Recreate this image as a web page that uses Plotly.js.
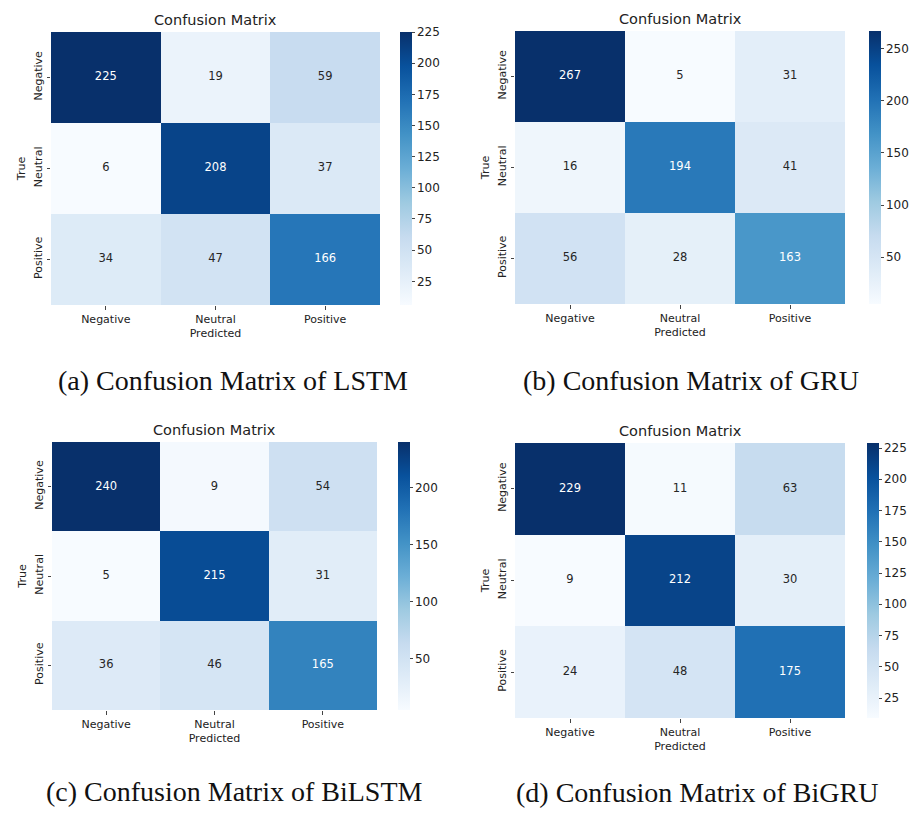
<!DOCTYPE html>
<html>
<head>
<meta charset="utf-8">
<script src="https://cdn.plot.ly/plotly-3.0.1.min.js"></script>
<style>html,body{margin:0;padding:0;background:#fff;}#chart{width:914px;height:814px;}</style>
</head>
<body>
<div id="chart"></div>
<script>
// Data
const labels = ["Negative", "Neutral", "Positive"];
const lstm   = [[225, 19, 59], [6, 208, 37], [34, 47, 166]];
const gru    = [[267, 5, 31], [16, 194, 41], [56, 28, 163]];
const bilstm = [[240, 9, 54], [5, 215, 31], [36, 46, 165]];
const bigru  = [[229, 11, 63], [9, 212, 30], [24, 48, 175]];
const captions = ["(a) Confusion Matrix of LSTM", "(b) Confusion Matrix of GRU",
                  "(c) Confusion Matrix of BiLSTM", "(d) Confusion Matrix of BiGRU"];
const cbTicks = [[25,50,75,100,125,150,175,200,225],[50,100,150,200,250],[50,100,150,200],[25,50,75,100,125,150,175,200,225]];

const W = 914, H = 814;
const blues = [[0,'#f7fbff'],[0.125,'#deebf7'],[0.25,'#c6dbef'],[0.375,'#9ecae1'],[0.5,'#6baed6'],[0.625,'#4292c6'],[0.75,'#2171b5'],[0.875,'#08519c'],[1,'#08306b']];

// pixel layout boxes: [x0,x1,y0,y1], colorbar [x, y0, y1], caption [cx, cy]
const panels = [
  {z: lstm,   box:[51,380,32,305],  cb:[400,32,305],  cap:[233,380]},
  {z: gru,    box:[515,845,31,304], cb:[869,31,304],  cap:[691,380]},
  {z: bilstm, box:[52,377,442,710], cb:[398,442,710], cap:[234,791]},
  {z: bigru,  box:[515,845,443,718],cb:[867,443,718], cap:[697,792]}
];

const px = x => x / W;
const py = y => 1 - y / H;
const tickFont = {family: 'DejaVu Sans', size: 11, color: '#222'};

const data = [];
const layout = {
  width: W, height: H,
  margin: {l:0, r:0, t:0, b:0},
  paper_bgcolor: '#fff', plot_bgcolor: '#fff',
  showlegend: false,
  annotations: []
};

panels.forEach((p, i) => {
  const n = i === 0 ? '' : String(i + 1);
  const flat = p.z.flat();
  const zmin = Math.min(...flat), zmax = Math.max(...flat);
  data.push({
    type: 'heatmap',
    x: labels, y: labels, z: p.z,
    xaxis: 'x' + n, yaxis: 'y' + n,
    colorscale: blues, zmin: zmin, zmax: zmax,
    hoverinfo: 'skip',
    colorbar: {
      x: px(p.cb[0]), xanchor: 'left', xref: 'paper',
      y: py((p.cb[1] + p.cb[2]) / 2), yanchor: 'middle',
      len: (p.cb[2] - p.cb[1]) / H, lenmode: 'fraction',
      thickness: 12, thicknessmode: 'pixels',
      xpad: 0, ypad: 0,
      outlinewidth: 0,
      tickvals: cbTicks[i],
      ticks: 'outside', ticklen: 3, tickcolor: '#444',
      tickfont: {family: 'DejaVu Sans', size: 12, color: '#222'}
    }
  });
  // cell value labels (white on dark cells, dark on light cells)
  const tx = [], ty = [], tt = [], tc = [];
  p.z.forEach((row, r) => row.forEach((v, c) => {
    tx.push(labels[c]); ty.push(labels[r]); tt.push(String(v));
    tc.push((v - zmin) / (zmax - zmin) > 0.5 ? '#ffffff' : '#262626');
  }));
  data.push({
    type: 'scatter', mode: 'text',
    x: tx, y: ty, text: tt,
    xaxis: 'x' + n, yaxis: 'y' + n,
    textposition: 'middle center',
    textfont: {family: 'DejaVu Sans', size: 11.5, color: tc},
    hoverinfo: 'skip', showlegend: false
  });
  layout['xaxis' + n] = {
    domain: [px(p.box[0]), px(p.box[1])],
    anchor: 'y' + n,
    type: 'category',
    showgrid: false, zeroline: false, showline: false,
    ticks: 'outside', ticklen: 3.5, tickcolor: '#444',
    tickfont: tickFont,
    title: {text: 'Predicted', font: tickFont, standoff: 4},
    automargin: false
  };
  layout['yaxis' + n] = {
    domain: [py(p.box[3]), py(p.box[2])],
    anchor: 'x' + n,
    type: 'category',
    autorange: 'reversed',
    showgrid: false, zeroline: false, showline: false,
    ticks: 'outside', ticklen: 3.5, tickcolor: '#444',
    tickangle: -90,
    tickfont: tickFont,
    title: {text: 'True', font: tickFont, standoff: 4},
    automargin: false
  };
  layout.annotations.push({
    text: 'Confusion Matrix', xref: 'paper', yref: 'paper',
    x: px((p.box[0] + p.box[1]) / 2), y: py(p.box[2] - 12),
    xanchor: 'center', yanchor: 'middle', showarrow: false,
    font: {family: 'DejaVu Sans', size: 14.5, color: '#222'}
  });
  layout.annotations.push({
    text: captions[i], xref: 'paper', yref: 'paper',
    x: px(p.cap[0]), y: py(p.cap[1]),
    xanchor: 'center', yanchor: 'middle', showarrow: false,
    font: {family: 'Liberation Serif', size: 28, color: '#111'}
  });
});

Plotly.newPlot('chart', data, layout, {displayModeBar: false, staticPlot: true});
</script>
</body>
</html>
